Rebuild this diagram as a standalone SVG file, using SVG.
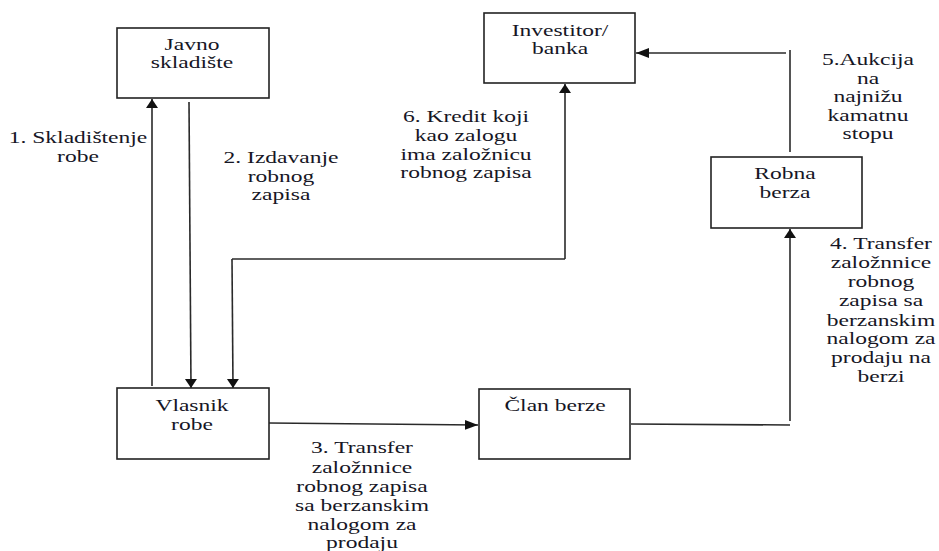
<svg xmlns="http://www.w3.org/2000/svg" width="939" height="551" viewBox="0 0 939 551">
  <style>
    .box { fill: #fff; stroke: #222; stroke-width: 1.6; }
    .edge { fill: none; stroke: #2a2a2a; stroke-width: 1.6; }
    .v { marker-end: url(#arrV); }
    .h { marker-end: url(#arrH); }
    .t text { font-size: 16px; fill: #161625; text-anchor: middle; }
  </style>
  <defs>
    <marker id="arrV" markerUnits="userSpaceOnUse" markerWidth="10" markerHeight="14" refX="9" refY="6.5" orient="auto">
      <path d="M0,0.5 L9,6.5 L0,12.5 Z" fill="#111"/>
    </marker>
    <marker id="arrH" markerUnits="userSpaceOnUse" markerWidth="14" markerHeight="12" refX="13" refY="5.5" orient="auto">
      <path d="M0,0.5 L13,5.5 L0,10.5 Z" fill="#111"/>
    </marker>
  </defs>

  <rect width="939" height="551" fill="#fff"/>

  <!-- connectors -->
  <g id="connectors">
    <!-- 1: Vlasnik robe -> Javno skladište -->
    <path class="edge v" d="M152,386 L152,99"/>
    <!-- 2: Javno skladište -> Vlasnik robe -->
    <path class="edge v" d="M189,102 L191,388"/>
    <!-- 6: Investitor/banka <-> Vlasnik robe -->
    <path class="edge" d="M565,259 L232,259" />
    <path class="edge v" d="M565,259 L565,84"/>
    <path class="edge v" d="M232,259 L233,388"/>
    <!-- 3: Vlasnik robe -> Član berze -->
    <path class="edge h" d="M269,423 L478,425"/>
    <!-- 4: Član berze -> Robna berza -->
    <path class="edge" d="M631,424 L790,425"/>
    <path class="edge v" d="M790,421 L790,229"/>
    <!-- 5: Robna berza -> Investitor/banka -->
    <path class="edge" d="M790,152 L790,50"/>
    <path class="edge h" d="M786,53 L636,53"/>
  </g>

  <g font-family="Liberation Serif, Times New Roman, serif">
  <!-- nodes -->
  <g id="javno-skladiste">
    <rect class="box" x="117" y="28" width="152" height="70"/>
    <g class="t" transform="translate(192,0) scale(1.47,1)">
      <text x="0" y="50">Javno</text>
      <text x="0" y="68">skladište</text>
    </g>
  </g>

  <g id="investitor-banka">
    <rect class="box" x="484" y="13" width="151" height="70"/>
    <g class="t" transform="translate(560,0) scale(1.47,1)">
      <text x="0" y="36">Investitor/</text>
      <text x="0" y="54">banka</text>
    </g>
  </g>

  <g id="robna-berza">
    <rect class="box" x="711" y="157" width="151" height="71"/>
    <g class="t" transform="translate(785,0) scale(1.47,1)">
      <text x="0" y="179">Robna</text>
      <text x="0" y="198">berza</text>
    </g>
  </g>

  <g id="vlasnik-robe">
    <rect class="box" x="117" y="388" width="152" height="71"/>
    <g class="t" transform="translate(192,0) scale(1.47,1)">
      <text x="0" y="411">Vlasnik</text>
      <text x="0" y="430">robe</text>
    </g>
  </g>

  <g id="clan-berze">
    <rect class="box" x="479" y="389" width="151" height="70"/>
    <g class="t" transform="translate(555,0) scale(1.47,1)">
      <text x="0" y="411">Član berze</text>
    </g>
  </g>

  <!-- connector labels -->
  <g id="label-1" class="t" transform="translate(78,0) scale(1.47,1)">
    <text x="0" y="143">1. Skladištenje</text>
    <text x="0" y="162">robe</text>
  </g>

  <g id="label-2" class="t" transform="translate(281,0) scale(1.47,1)">
    <text x="0" y="163">2. Izdavanje</text>
    <text x="0" y="182">robnog</text>
    <text x="0" y="200">zapisa</text>
  </g>

  <g id="label-6" class="t" transform="translate(466,0) scale(1.47,1)">
    <text x="0" y="122">6. Kredit koji</text>
    <text x="0" y="141">kao zalogu</text>
    <text x="0" y="160">ima založnicu</text>
    <text x="0" y="178">robnog zapisa</text>
  </g>

  <g id="label-5" class="t" transform="translate(868,0) scale(1.47,1)">
    <text x="0" y="65">5.Aukcija</text>
    <text x="0" y="84">na</text>
    <text x="0" y="102">najnižu</text>
    <text x="0" y="121">kamatnu</text>
    <text x="0" y="139">stopu</text>
  </g>

  <g id="label-4" class="t" transform="translate(881,0) scale(1.47,1)">
    <text x="0" y="249">4. Transfer</text>
    <text x="0" y="268">založnnice</text>
    <text x="0" y="287">robnog</text>
    <text x="0" y="306">zapisa sa</text>
    <text x="0" y="326">berzanskim</text>
    <text x="0" y="344">nalogom za</text>
    <text x="0" y="363">prodaju na</text>
    <text x="0" y="382">berzi</text>
  </g>

  <g id="label-3" class="t" transform="translate(362,0) scale(1.47,1)">
    <text x="0" y="453">3. Transfer</text>
    <text x="0" y="473">založnnice</text>
    <text x="0" y="492">robnog zapisa</text>
    <text x="0" y="511">sa berzanskim</text>
    <text x="0" y="530">nalogom za</text>
    <text x="0" y="548">prodaju</text>
  </g>
  </g>
</svg>
